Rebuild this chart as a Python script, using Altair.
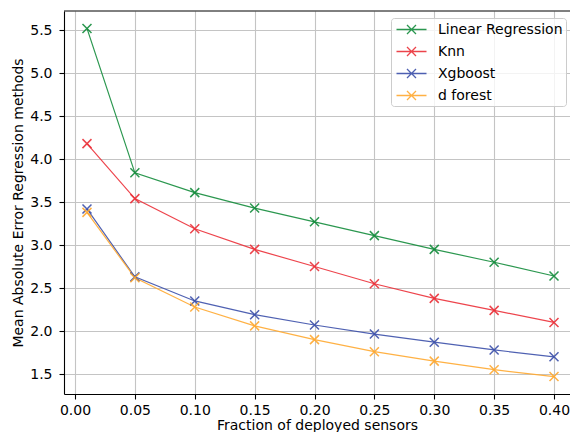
import altair as alt
import pandas as pd

fractions = [0.01, 0.05, 0.10, 0.15, 0.20, 0.25, 0.30, 0.35, 0.40]
linear_regression = [5.52, 3.84, 3.61, 3.43, 3.27, 3.11, 2.95, 2.80, 2.64]
knn = [4.18, 3.54, 3.19, 2.95, 2.75, 2.55, 2.38, 2.24, 2.10]
xgboost = [3.42, 2.63, 2.35, 2.19, 2.07, 1.965, 1.87, 1.78, 1.70]
d_forest = [3.38, 2.62, 2.28, 2.06, 1.90, 1.76, 1.65, 1.55, 1.47]

methods = ["Linear Regression", "Knn", "Xgboost", "d forest"]
colors = ["#148c3c", "#eb3038", "#3c50aa", "#ffa930"]
series = [linear_regression, knn, xgboost, d_forest]

x_ticks = [0.00, 0.05, 0.10, 0.15, 0.20, 0.25, 0.30, 0.35, 0.40]
y_ticks = [1.5, 2.0, 2.5, 3.0, 3.5, 4.0, 4.5, 5.0, 5.5]

rows = []
for m, vals in zip(methods, series):
    for f, v in zip(fractions, vals):
        rows.append({"fraction": f, "mae": v, "method": m})
df = pd.DataFrame(rows)

W, H = 506, 383
FONT = "DejaVu Sans"

legend_sym = "M-2,0L2,0M-0.6,-0.6L0.6,0.6M0.6,-0.6L-0.6,0.6"
legend = alt.Legend(
    title=None, orient="none", legendX=327, legendY=7,
    symbolType=legend_sym, symbolSize=225, symbolStrokeWidth=1.3,
    symbolFillColor="transparent", symbolOffset=9,
    labelFontSize=14, labelFont=FONT, labelColor="black", labelOffset=18,
    rowPadding=6, padding=3, fillColor="rgba(255,255,255,0.8)",
    strokeColor="#cccccc", cornerRadius=3,
)

xenc = alt.X("fraction:Q", title="Fraction of deployed sensors",
             scale=alt.Scale(domain=[-0.00919, 0.41336], nice=False, zero=False),
             axis=alt.Axis(values=x_ticks, format=".2f"))
yenc = alt.Y("mae:Q", title="Mean Absolute Error Regression methods",
             scale=alt.Scale(domain=[1.2675, 5.7225], nice=False, zero=False),
             axis=alt.Axis(values=y_ticks, format=".1f"))
cenc = alt.Color("method:N", scale=alt.Scale(domain=methods, range=colors),
                 legend=legend)

base = alt.Chart(df)
lines = base.mark_line(strokeWidth=1.2, opacity=0.9).encode(
    x=xenc, y=yenc, color=cenc, detail="method:N")
points = base.mark_point(shape="M-1,-1L1,1M1,-1L-1,1", size=81, filled=False,
                         strokeWidth=1.5, opacity=0.9).encode(
    x=xenc, y=yenc, color=cenc)
top = alt.Chart(pd.DataFrame({"k": [0]})).mark_rule(color="black", strokeWidth=1).encode(
    y=alt.value(0), x=alt.value(0), x2=alt.value(W))

chart = alt.layer(lines, points, top).properties(
    width=W, height=H,
    autosize=alt.AutoSizeParams(type="none"),
    padding={"left": 56, "top": 3, "right": 0, "bottom": 424 - 3 - H},
).configure_view(stroke=None).configure_axis(
    labelFont=FONT, titleFont=FONT, labelFontSize=14, titleFontSize=14,
    labelColor="black", titleColor="black", titleFontWeight="normal",
    domainColor="black", domainWidth=1.1, tickColor="black", tickWidth=1.1,
    tickSize=5, gridColor="#c4c4c4", gridWidth=1.1,
).configure_axisY(labelPadding=7, titlePadding=4).configure_axisX(
    labelPadding=4, titlePadding=1)

chart.save("out.html", embed_options={"renderer": "svg", "actions": False})
